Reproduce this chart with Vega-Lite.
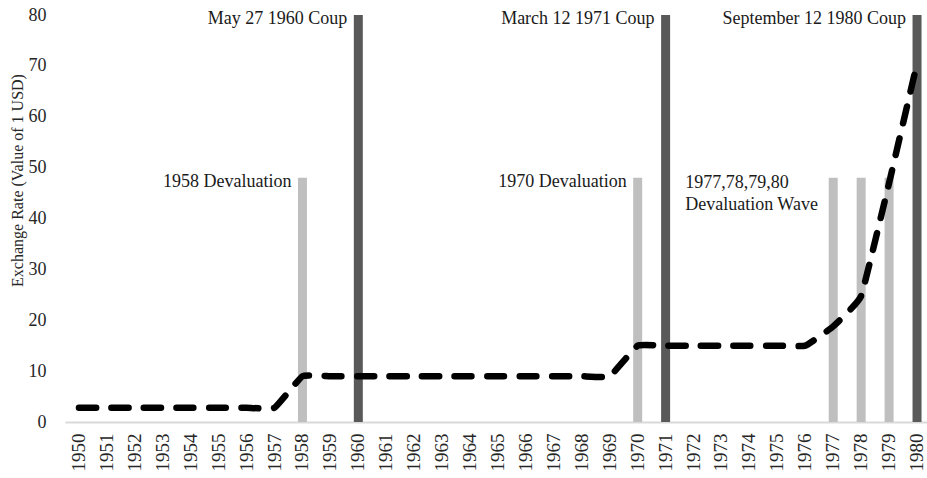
{
  "$schema": "https://vega.github.io/schema/vega-lite/v6.json",
  "width": 862,
  "height": 407,
  "autosize": {"type": "none"},
  "padding": {"left": 65, "top": 15, "right": 0, "bottom": 56},
  "background": "white",
  "config": {
    "view": {"stroke": null},
    "font": "Liberation Serif"
  },
  "datasets": {
    "series": [
      {"year": "1950", "rate": 2.8, "bar": null, "kind": null},
      {"year": "1951", "rate": 2.8, "bar": null, "kind": null},
      {"year": "1952", "rate": 2.8, "bar": null, "kind": null},
      {"year": "1953", "rate": 2.8, "bar": null, "kind": null},
      {"year": "1954", "rate": 2.8, "bar": null, "kind": null},
      {"year": "1955", "rate": 2.8, "bar": null, "kind": null},
      {"year": "1956", "rate": 2.8, "bar": null, "kind": null},
      {"year": "1957", "rate": 2.8, "bar": null, "kind": null},
      {"year": "1958", "rate": 9, "bar": 48, "kind": "Devaluation"},
      {"year": "1959", "rate": 9, "bar": null, "kind": null},
      {"year": "1960", "rate": 9, "bar": 80, "kind": "Coup"},
      {"year": "1961", "rate": 9, "bar": null, "kind": null},
      {"year": "1962", "rate": 9, "bar": null, "kind": null},
      {"year": "1963", "rate": 9, "bar": null, "kind": null},
      {"year": "1964", "rate": 9, "bar": null, "kind": null},
      {"year": "1965", "rate": 9, "bar": null, "kind": null},
      {"year": "1966", "rate": 9, "bar": null, "kind": null},
      {"year": "1967", "rate": 9, "bar": null, "kind": null},
      {"year": "1968", "rate": 9, "bar": null, "kind": null},
      {"year": "1969", "rate": 9, "bar": null, "kind": null},
      {"year": "1970", "rate": 15, "bar": 48, "kind": "Devaluation"},
      {"year": "1971", "rate": 15, "bar": 80, "kind": "Coup"},
      {"year": "1972", "rate": 15, "bar": null, "kind": null},
      {"year": "1973", "rate": 15, "bar": null, "kind": null},
      {"year": "1974", "rate": 15, "bar": null, "kind": null},
      {"year": "1975", "rate": 15, "bar": null, "kind": null},
      {"year": "1976", "rate": 15, "bar": null, "kind": null},
      {"year": "1977", "rate": 18.8, "bar": 48, "kind": "Devaluation"},
      {"year": "1978", "rate": 24.8, "bar": 48, "kind": "Devaluation"},
      {"year": "1979", "rate": 47, "bar": 48, "kind": "Devaluation"},
      {"year": "1980", "rate": 70.5, "bar": 80, "kind": "Coup"}
    ],
    "notes": [
      {"year": "1958", "pos": 48, "label": "1958 Devaluation"},
      {"year": "1960", "pos": 80, "label": "May 27 1960 Coup"},
      {"year": "1970", "pos": 48, "label": "1970 Devaluation"},
      {"year": "1971", "pos": 80, "label": "March 12 1971 Coup"},
      {"year": "1980", "pos": 80, "label": "September 12 1980 Coup"}
    ],
    "wave": [
      {"year": "1977", "pos": 48, "label": ["1977,78,79,80", "Devaluation Wave"]}
    ]
  },
  "layer": [
    {
      "data": {"name": "series"},
      "transform": [{"filter": "datum.bar != null"}],
      "mark": {"type": "bar", "size": 9},
      "encoding": {
        "x": {
          "field": "year", "type": "ordinal",
          "scale": {"type": "band", "paddingInner": 0, "paddingOuter": 0, "range": [0, 866], "domain": ["1950","1951","1952","1953","1954","1955","1956","1957","1958","1959","1960","1961","1962","1963","1964","1965","1966","1967","1968","1969","1970","1971","1972","1973","1974","1975","1976","1977","1978","1979","1980"]},
          "axis": {"title": null, "labelAngle": -90, "labelFont": "Liberation Serif", "labelFontSize": 19, "labelColor": "#262626", "labelPadding": 11, "ticks": false, "domainColor": "#d9d9d9", "domainWidth": 2, "grid": false}
        },
        "y": {
          "field": "bar", "type": "quantitative",
          "scale": {"domain": [0, 80], "nice": false},
          "axis": {"title": "Exchange Rate (Value of 1 USD)", "titleFont": "Liberation Serif", "titleFontSize": 16, "titleFontWeight": "normal", "titleColor": "#262626", "titlePadding": 3, "titleY": 165, "values": [0, 10, 20, 30, 40, 50, 60, 70, 80], "labelFont": "Liberation Serif", "labelFontSize": 18, "labelColor": "#262626", "labelPadding": 19, "ticks": false, "domain": false, "grid": false}
        },
        "color": {"field": "kind", "type": "nominal", "scale": {"domain": ["Devaluation", "Coup"], "range": ["#bfbfbf", "#595959"]}, "legend": null}
      }
    },
    {
      "data": {"name": "series"},
      "mark": {"type": "line", "color": "black", "strokeWidth": 6.5, "strokeDash": [17, 15.5], "strokeCap": "round", "interpolate": "cardinal", "tension": 0.7},
      "encoding": {
        "x": {"field": "year", "type": "ordinal"},
        "y": {"field": "rate", "type": "quantitative"}
      }
    },
    {
      "data": {"name": "notes"},
      "mark": {"type": "text", "align": "right", "baseline": "middle", "dx": -11, "dy": 4, "fontSize": 18, "font": "Liberation Serif", "color": "#1a1a1a"},
      "encoding": {
        "x": {"field": "year", "type": "ordinal"},
        "y": {"field": "pos", "type": "quantitative"},
        "text": {"field": "label"}
      }
    },
    {
      "data": {"name": "wave"},
      "mark": {"type": "text", "align": "left", "baseline": "alphabetic", "dx": -148, "dy": 10, "lineHeight": 22, "fontSize": 18, "font": "Liberation Serif", "color": "#1a1a1a"},
      "encoding": {
        "x": {"field": "year", "type": "ordinal"},
        "y": {"field": "pos", "type": "quantitative"},
        "text": {"field": "label"}
      }
    }
  ]
}
